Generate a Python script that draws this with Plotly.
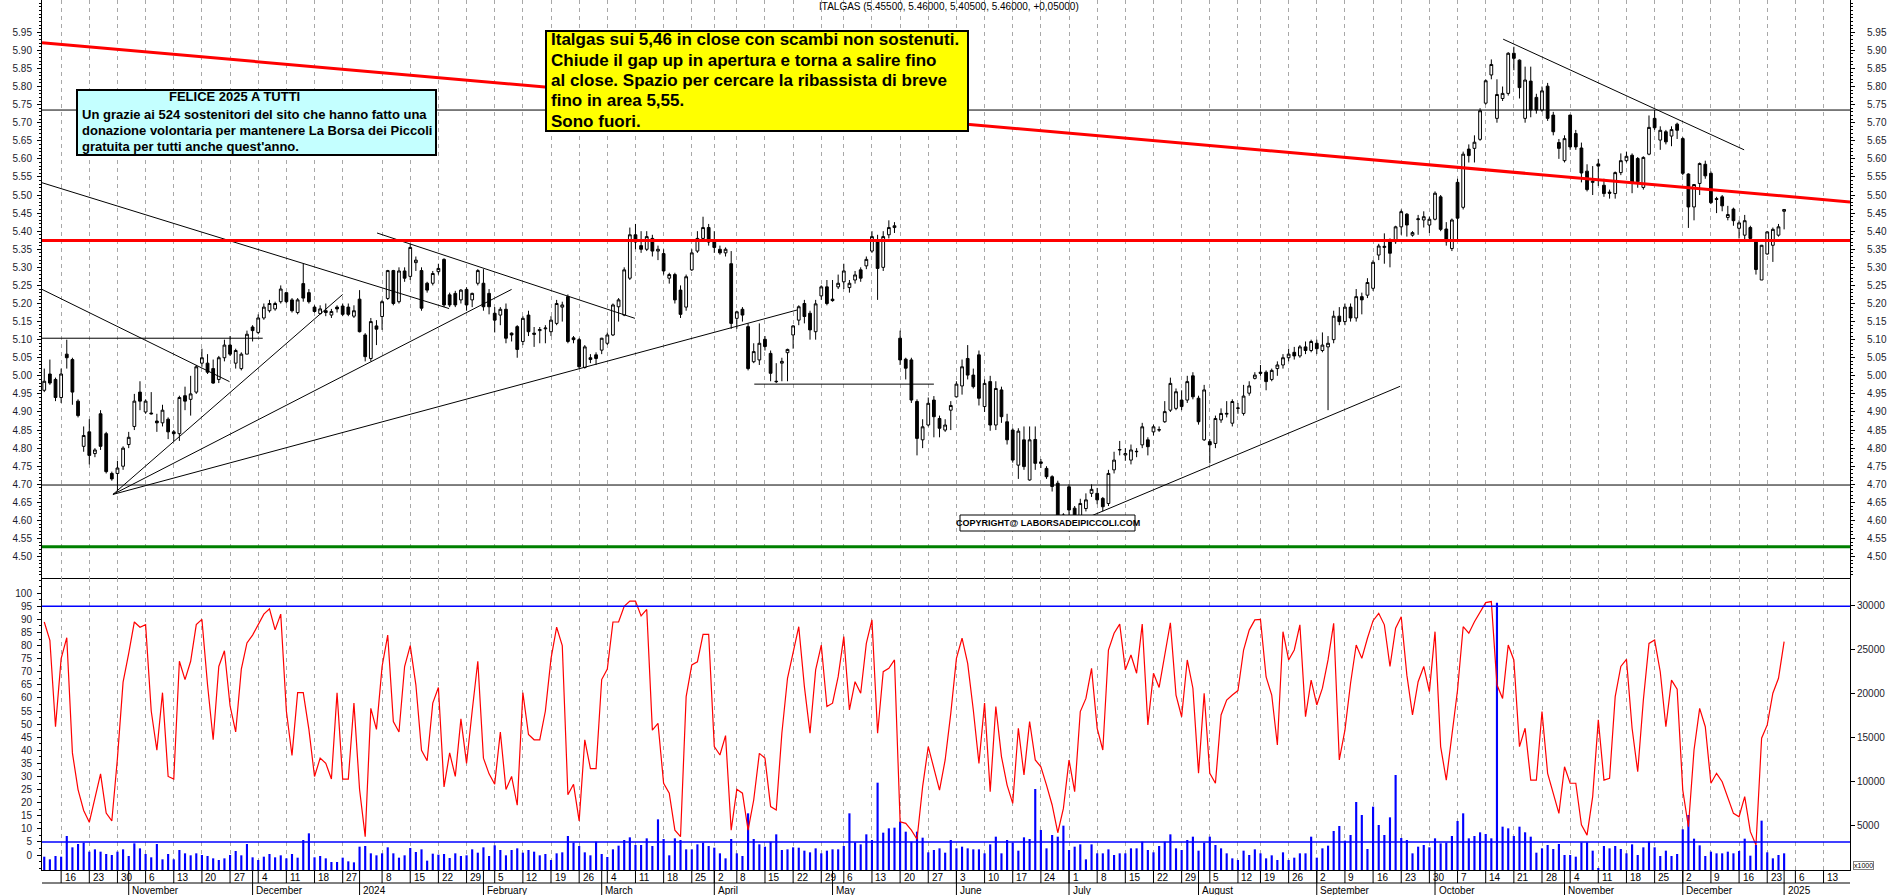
import plotly.graph_objects as go
import pandas as pd

FONT = "Liberation Sans, Arial, sans-serif"

# ---------------- calendar ----------------
FIRST_DAY = "2023-10-11"
HOLIDAYS = ["2023-12-25", "2023-12-26", "2024-01-01", "2024-03-29", "2024-04-01",
            "2024-05-01", "2024-08-15", "2024-12-24", "2024-12-25", "2024-12-26",
            "2024-12-31", "2025-01-01"]
MONTH_NAMES = {2: "February", 3: "March", 4: "April", 5: "May", 6: "June", 7: "July",
               8: "August", 9: "September", 10: "October", 11: "November", 12: "December"}

# ---------------- daily prices (ITALGAS) ----------------
opens = [
    4.96, 5.005, 4.99, 4.94, 5.06, 5.045, 4.93, 4.805, 4.845, 4.785,
    4.895, 4.84, 4.73, 4.73, 4.75, 4.81, 4.86, 4.955, 4.90, 4.897,
    4.875, 4.87, 4.88, 4.845, 4.84, 4.945, 4.935, 4.955, 5.035, 5.035,
    5.02, 4.99, 5.05, 5.085, 5.035, 5.02, 5.06, 5.135, 5.12, 5.16,
    5.18, 5.185, 5.205, 5.23, 5.21, 5.175, 5.255, 5.23, 5.19, 5.172,
    5.18, 5.168, 5.19, 5.193, 5.19, 5.165, 5.212, 5.113, 5.048, 5.138,
    5.164, 5.214, 5.291, 5.205, 5.29, 5.275, 5.313, 5.291, 5.256, 5.256,
    5.288, 5.322, 5.224, 5.228, 5.21, 5.239, 5.21, 5.256, 5.256, 5.228,
    5.173, 5.168, 5.184, 5.118, 5.136, 5.095, 5.168, 5.118, 5.125, 5.13,
    5.122, 5.145, 5.19, 5.219, 5.105, 5.10, 5.023, 5.05, 5.058, 5.071,
    5.09, 5.113, 5.191, 5.168, 5.27, 5.39, 5.36, 5.35, 5.38, 5.345,
    5.338, 5.27, 5.28, 5.237, 5.19, 5.293, 5.345, 5.38, 5.41, 5.37,
    5.35, 5.34, 5.31, 5.159, 5.184, 5.136, 5.039, 5.044, 5.101, 5.062,
    4.985, 5.035, 5.064, 5.113, 5.154, 5.20, 5.173, 5.122, 5.221, 5.246,
    5.212, 5.246, 5.26, 5.244, 5.265, 5.293, 5.304, 5.345, 5.37, 5.30,
    5.39, 5.41, 5.104, 5.046, 5.044, 4.929, 4.823, 4.864, 4.933, 4.882,
    4.85, 4.905, 4.942, 4.972, 5.048, 5.002, 5.058, 4.915, 4.984, 4.864,
    4.961, 4.873, 4.85, 4.753, 4.823, 4.712, 4.824, 4.762, 4.744, 4.721,
    4.703, 4.606, 4.693, 4.634, 4.61, 4.633, 4.675, 4.675, 4.661, 4.647,
    4.74, 4.795, 4.781, 4.767, 4.79, 4.809, 4.823, 4.845, 4.85, 4.873,
    4.905, 4.91, 4.933, 4.933, 5.00, 4.938, 4.823, 4.818, 4.813, 4.878,
    4.894, 4.869, 4.91, 4.896, 4.952, 4.993, 5.01, 5.01, 4.99, 5.02,
    5.03, 5.05, 5.065, 5.055, 5.08, 5.07, 5.09, 5.07, 5.08, 5.10,
    5.165, 5.15, 5.19, 5.16, 5.219, 5.223, 5.242, 5.334, 5.355, 5.371,
    5.371, 5.412, 5.447, 5.389, 5.432, 5.431, 5.417, 5.433, 5.495, 5.406,
    5.352, 5.535, 5.466, 5.627, 5.629, 5.654, 5.754, 5.832, 5.712, 5.767,
    5.781, 5.892, 5.873, 5.712, 5.815, 5.77, 5.735, 5.801, 5.721, 5.645,
    5.595, 5.721, 5.67, 5.63, 5.566, 5.535, 5.586, 5.527, 5.508, 5.504,
    5.562, 5.595, 5.61, 5.601, 5.521, 5.613, 5.712, 5.652, 5.675, 5.663,
    5.696, 5.656, 5.558, 5.467, 5.532, 5.585, 5.56, 5.49, 5.495, 5.438,
    5.461, 5.408, 5.389, 5.41, 5.371, 5.265, 5.337, 5.361, 5.389, 5.455,
]
highs = [
    5.02, 5.045, 4.995, 5.02, 5.10, 5.05, 4.935, 4.86, 4.88, 4.80,
    4.905, 4.845, 4.735, 4.765, 4.805, 4.845, 4.95, 4.985, 4.935, 4.955,
    4.895, 4.92, 4.885, 4.85, 4.945, 4.97, 5.00, 5.03, 5.075, 5.06,
    5.045, 5.055, 5.10, 5.11, 5.075, 5.065, 5.125, 5.14, 5.17, 5.20,
    5.21, 5.205, 5.25, 5.23, 5.215, 5.215, 5.31, 5.24, 5.195, 5.195,
    5.20, 5.185, 5.195, 5.20, 5.20, 5.195, 5.237, 5.118, 5.16, 5.154,
    5.21, 5.293, 5.293, 5.30, 5.30, 5.365, 5.33, 5.30, 5.26, 5.29,
    5.31, 5.325, 5.23, 5.235, 5.24, 5.245, 5.23, 5.295, 5.295, 5.24,
    5.19, 5.19, 5.20, 5.12, 5.14, 5.165, 5.18, 5.135, 5.135, 5.14,
    5.165, 5.21, 5.205, 5.225, 5.11, 5.105, 5.085, 5.06, 5.065, 5.105,
    5.12, 5.20, 5.215, 5.30, 5.41, 5.42, 5.40, 5.40, 5.39, 5.36,
    5.35, 5.285, 5.285, 5.25, 5.28, 5.35, 5.40, 5.44, 5.42, 5.40,
    5.36, 5.355, 5.345, 5.18, 5.19, 5.145, 5.09, 5.145, 5.11, 5.07,
    5.035, 5.05, 5.075, 5.14, 5.195, 5.21, 5.18, 5.21, 5.25, 5.265,
    5.265, 5.28, 5.31, 5.265, 5.29, 5.30, 5.33, 5.40, 5.39, 5.40,
    5.43, 5.425, 5.125, 5.05, 5.05, 4.935, 4.88, 4.94, 4.944, 4.89,
    4.88, 4.93, 4.985, 5.045, 5.085, 5.02, 5.07, 4.99, 5.00, 4.985,
    4.97, 4.895, 4.855, 4.855, 4.86, 4.86, 4.86, 4.77, 4.75, 4.725,
    4.71, 4.62, 4.70, 4.64, 4.66, 4.675, 4.70, 4.69, 4.665, 4.74,
    4.79, 4.82, 4.80, 4.81, 4.80, 4.87, 4.83, 4.865, 4.86, 4.93,
    4.995, 4.965, 4.96, 5.00, 5.01, 4.945, 4.975, 4.825, 4.89, 4.91,
    4.93, 4.935, 4.925, 4.975, 4.985, 5.01, 5.03, 5.015, 5.02, 5.04,
    5.06, 5.075, 5.08, 5.085, 5.095, 5.10, 5.10, 5.12, 5.11, 5.18,
    5.19, 5.20, 5.20, 5.24, 5.23, 5.27, 5.32, 5.365, 5.394, 5.38,
    5.415, 5.46, 5.45, 5.40, 5.445, 5.455, 5.44, 5.51, 5.50, 5.425,
    5.435, 5.545, 5.62, 5.64, 5.665, 5.74, 5.82, 5.875, 5.82, 5.80,
    5.895, 5.91, 5.875, 5.855, 5.855, 5.78, 5.80, 5.81, 5.73, 5.655,
    5.665, 5.722, 5.68, 5.645, 5.585, 5.58, 5.60, 5.545, 5.515, 5.565,
    5.615, 5.62, 5.615, 5.605, 5.607, 5.72, 5.735, 5.69, 5.68, 5.69,
    5.70, 5.66, 5.56, 5.53, 5.59, 5.595, 5.565, 5.495, 5.50, 5.47,
    5.465, 5.43, 5.445, 5.415, 5.372, 5.362, 5.40, 5.41, 5.42, 5.46,
]
lows = [
    4.955, 4.975, 4.93, 4.925, 5.02, 4.92, 4.885, 4.79, 4.755, 4.775,
    4.795, 4.73, 4.71, 4.68, 4.74, 4.80, 4.85, 4.905, 4.895, 4.893,
    4.845, 4.86, 4.825, 4.82, 4.82, 4.905, 4.89, 4.95, 5.025, 5.005,
    4.978, 4.98, 5.04, 5.055, 5.02, 5.015, 5.06, 5.095, 5.115, 5.155,
    5.175, 5.18, 5.20, 5.20, 5.175, 5.17, 5.205, 5.20, 5.175, 5.17,
    5.165, 5.16, 5.175, 5.165, 5.165, 5.16, 5.12, 5.04, 5.04, 5.085,
    5.127, 5.21, 5.195, 5.20, 5.26, 5.265, 5.29, 5.18, 5.23, 5.25,
    5.28, 5.19, 5.19, 5.19, 5.20, 5.18, 5.19, 5.25, 5.18, 5.17,
    5.12, 5.14, 5.09, 5.095, 5.05, 5.085, 5.11, 5.08, 5.09, 5.09,
    5.11, 5.14, 5.15, 5.09, 5.09, 5.02, 5.02, 5.035, 5.03, 5.06,
    5.085, 5.11, 5.15, 5.165, 5.265, 5.35, 5.34, 5.345, 5.33, 5.32,
    5.28, 5.255, 5.20, 5.16, 5.18, 5.29, 5.34, 5.37, 5.36, 5.34,
    5.335, 5.33, 5.13, 5.13, 5.15, 5.015, 5.035, 5.03, 5.07, 4.985,
    4.98, 4.985, 4.985, 5.075, 5.14, 5.145, 5.10, 5.10, 5.21, 5.195,
    5.205, 5.24, 5.24, 5.23, 5.255, 5.26, 5.295, 5.34, 5.21, 5.29,
    5.38, 5.395, 5.03, 4.99, 4.925, 4.78, 4.80, 4.86, 4.83, 4.83,
    4.845, 4.85, 4.94, 4.948, 4.99, 4.965, 4.918, 4.90, 4.848, 4.85,
    4.87, 4.81, 4.76, 4.715, 4.74, 4.71, 4.74, 4.745, 4.715, 4.68,
    4.585, 4.59, 4.57, 4.585, 4.60, 4.625, 4.665, 4.645, 4.625, 4.64,
    4.73, 4.78, 4.765, 4.755, 4.775, 4.80, 4.78, 4.835, 4.845, 4.87,
    4.90, 4.905, 4.905, 4.925, 4.935, 4.865, 4.82, 4.758, 4.80, 4.87,
    4.885, 4.86, 4.895, 4.89, 4.945, 4.99, 5.00, 4.96, 4.985, 5.00,
    5.02, 5.04, 5.045, 5.05, 5.06, 5.065, 5.06, 5.065, 4.905, 5.09,
    5.14, 5.14, 5.15, 5.15, 5.17, 5.215, 5.235, 5.32, 5.31, 5.30,
    5.365, 5.39, 5.385, 5.385, 5.39, 5.41, 5.395, 5.43, 5.40, 5.36,
    5.345, 5.375, 5.46, 5.59, 5.59, 5.65, 5.75, 5.82, 5.70, 5.76,
    5.775, 5.845, 5.767, 5.70, 5.715, 5.725, 5.73, 5.705, 5.665, 5.60,
    5.59, 5.625, 5.625, 5.535, 5.51, 5.50, 5.525, 5.495, 5.49, 5.49,
    5.555, 5.59, 5.505, 5.52, 5.515, 5.61, 5.68, 5.625, 5.64, 5.635,
    5.655, 5.555, 5.409, 5.43, 5.50, 5.545, 5.475, 5.45, 5.455, 5.43,
    5.415, 5.38, 5.37, 5.375, 5.28, 5.265, 5.335, 5.315, 5.385, 5.405,
]
closes = [
    4.985, 4.98, 4.94, 5.005, 5.05, 4.955, 4.89, 4.835, 4.78, 4.795,
    4.805, 4.735, 4.715, 4.745, 4.80, 4.83, 4.93, 4.93, 4.93, 4.895,
    4.87, 4.905, 4.845, 4.84, 4.94, 4.93, 4.95, 5.025, 5.05, 5.01,
    4.98, 5.05, 5.085, 5.06, 5.07, 5.06, 5.115, 5.125, 5.16, 5.19,
    5.20, 5.20, 5.24, 5.205, 5.18, 5.21, 5.215, 5.205, 5.178, 5.185,
    5.175, 5.178, 5.185, 5.17, 5.17, 5.18, 5.122, 5.053, 5.15, 5.129,
    5.205, 5.291, 5.20, 5.29, 5.27, 5.355, 5.32, 5.187, 5.237, 5.283,
    5.297, 5.196, 5.196, 5.196, 5.237, 5.196, 5.228, 5.291, 5.191, 5.191,
    5.154, 5.184, 5.104, 5.113, 5.073, 5.159, 5.122, 5.115, 5.128, 5.132,
    5.154, 5.20, 5.196, 5.095, 5.10, 5.025, 5.08, 5.045, 5.048, 5.104,
    5.113, 5.196, 5.21, 5.293, 5.39, 5.37, 5.35, 5.385, 5.345, 5.35,
    5.29, 5.28, 5.21, 5.17, 5.274, 5.34, 5.38, 5.41, 5.37, 5.355,
    5.34, 5.35, 5.145, 5.177, 5.168, 5.02, 5.067, 5.09, 5.081, 5.007,
    4.984, 5.04, 5.073, 5.138, 5.191, 5.164, 5.127, 5.199, 5.246, 5.20,
    5.208, 5.256, 5.29, 5.256, 5.279, 5.27, 5.322, 5.385, 5.297, 5.385,
    5.41, 5.415, 5.044, 5.021, 4.933, 4.827, 4.859, 4.924, 4.887, 4.855,
    4.864, 4.918, 4.977, 5.025, 5.002, 4.97, 4.938, 4.979, 4.864, 4.965,
    4.887, 4.823, 4.767, 4.847, 4.749, 4.823, 4.758, 4.758, 4.721, 4.694,
    4.602, 4.615, 4.629, 4.601, 4.647, 4.657, 4.686, 4.657, 4.638, 4.73,
    4.767, 4.796, 4.785, 4.795, 4.791, 4.859, 4.804, 4.859, 4.851, 4.901,
    4.979, 4.956, 4.915, 4.984, 4.942, 4.873, 4.961, 4.809, 4.882, 4.896,
    4.896, 4.929, 4.911, 4.944, 4.972, 5.002, 5.007, 4.984, 5.015, 5.03,
    5.05, 5.06, 5.055, 5.08, 5.07, 5.095, 5.075, 5.085, 5.09, 5.165,
    5.15, 5.19, 5.16, 5.219, 5.21, 5.258, 5.314, 5.359, 5.358, 5.339,
    5.412, 5.454, 5.417, 5.396, 5.434, 5.44, 5.433, 5.505, 5.405, 5.371,
    5.431, 5.436, 5.613, 5.609, 5.646, 5.733, 5.816, 5.861, 5.778, 5.781,
    5.892, 5.878, 5.797, 5.818, 5.735, 5.735, 5.788, 5.712, 5.675, 5.629,
    5.656, 5.633, 5.633, 5.561, 5.515, 5.538, 5.58, 5.504, 5.505, 5.562,
    5.595, 5.607, 5.534, 5.537, 5.604, 5.687, 5.686, 5.679, 5.647, 5.681,
    5.679, 5.56, 5.467, 5.529, 5.587, 5.553, 5.479, 5.488, 5.47, 5.446,
    5.429, 5.423, 5.429, 5.38, 5.294, 5.361, 5.398, 5.405, 5.412, 5.46,
]

# ---------------- oscillator (0-100) ----------------
oscillator = [
    89, 82, 49, 75, 83, 39, 25, 17, 12.5, 22,
    31, 16, 13, 37, 66, 77, 89, 87, 88, 55,
    40, 62, 30, 29, 74, 67, 74, 88, 90, 65,
    44, 72, 78, 57, 47, 71, 81, 84, 88, 92,
    94, 86, 92, 55, 38, 62, 62, 48, 30, 37,
    35, 29, 62, 29, 29, 58, 25, 7, 56, 48,
    72, 84, 51, 47, 72, 80, 65, 40, 36, 58,
    64, 26, 39, 30, 52, 35, 55, 74, 37, 31,
    27, 47, 25, 30, 19, 62, 46, 44, 44, 55,
    75, 87, 80, 23, 27, 13, 44, 33, 33, 67,
    71, 89, 89, 95, 97, 97, 91.3, 93.8, 47.7, 50.3,
    27.4, 23.6, 9.5, 7, 60.5, 72.6, 73.8, 84.3, 84.3, 41.4,
    38.2, 45.6, 9.5, 25.1, 23.6, 9.5, 21, 38.8, 37, 18.5,
    17.2, 46.5, 67.5, 77, 87.2, 64.3, 46.5, 70.7, 80.2, 56.7,
    58, 68.1, 83.4, 55.4, 66.2, 61.8, 80.8, 89.8, 46.5, 70,
    71.3, 74.5, 12.7, 12.1, 9.5, 6, 26.1, 41.4, 33.1, 24.8,
    36.3, 54.1, 75.1, 82.8, 73.2, 55.4, 35, 58, 24.2, 56.7,
    37.6, 26.7, 19.7, 48.4, 30.6, 51, 36.3, 33.7, 26.7, 19.1,
    8.5, 17.8, 36.3, 24.2, 54.8, 59.8, 71.3, 48.4, 40.1, 78.3,
    84.7, 88.2, 70.7, 76.4, 69.4, 88.2, 49.7, 69.4, 64, 76.4,
    88.7, 61.1, 52.8, 74.5, 63.7, 31.2, 61.8, 31.2, 27.4, 53.5,
    59.2, 61.1, 62.8, 78.3, 85.9, 89.8, 90, 68, 61.1, 42,
    85.3, 74.5, 78.3, 87.9, 52.8, 66.8, 57.3, 63.7, 74.5, 88.5,
    36.3, 47.7, 65.6, 80.2, 75.1, 82.8, 89.5, 92.3, 87.9, 72,
    86.6, 91, 68.7, 53.5, 66.2, 72, 62.4, 85.3, 41.4, 28.6,
    45.2, 63, 87.2, 84.7, 89.1, 93, 96.4, 96.8, 65, 59.8,
    80.2, 74.5, 41.4, 48.4, 28.6, 28.6, 54.8, 31.2, 23.6, 15.9,
    33.7, 27.4, 27.4, 11.5, 7.6, 22.3, 51.6, 28.6, 29.3, 60.5,
    72, 74.7, 48.4, 31.8, 59.2, 80.8, 82.1, 70, 49, 66.8,
    63.3, 24.8, 10.8, 40.1, 56, 49, 27.4, 31.2, 28, 21.6,
    15.9, 14.6, 22.3, 8.9, 3.8, 44.6, 49.7, 61.8, 67.5, 81.5,
]

# ---------------- volume (x1000) ----------------
volume_k = [
    1513, 1211, 1589, 1513, 3859, 2573, 2951, 3102, 2081, 2346,
    2081, 1816, 1703, 2081, 2346, 1589, 3027, 2459, 1816, 1438,
    2951, 1211, 1816, 1211, 2270, 1892, 1665, 1892, 1703, 1589,
    1324, 1135, 1324, 1703, 2157, 1665, 2951, 1438, 1135, 1513,
    1816, 1438, 1665, 1324, 1816, 1400, 3405, 4162, 1438, 1589,
    1324, 908, 908, 1400, 984, 870, 2648, 2724, 1892, 1665,
    1892, 2573, 1892, 1400, 1665, 2497, 2043, 2346, 1059, 1854,
    1740, 1816, 1362, 1892, 1589, 1665, 2346, 1967, 2573, 1589,
    2800, 2270, 1665, 2270, 2459, 1967, 2270, 2081, 1665, 1816,
    1135, 1892, 2005, 3859, 3102, 2724, 2005, 1665, 3216, 1816,
    1476, 2346, 2762, 3405, 3708, 2838, 2838, 3594, 2724, 5751,
    3519, 1665, 3594, 3405, 2346, 2346, 2913, 3102, 2724, 2535,
    1892, 1324, 3519, 1892, 1589, 6433, 3519, 2913, 2648, 3216,
    4049, 2270, 2346, 2573, 2535, 2195, 2005, 2459, 1892, 2195,
    2346, 2346, 2724, 6433, 3140, 2913, 4049, 3405, 9911, 4238,
    4730, 4805, 5486, 4351, 3216, 4351, 3670, 2005, 2270, 2459,
    1967, 3405, 2459, 2648, 2459, 2346, 2346, 1892, 2913, 3783,
    1892, 3405, 3102, 2195, 3708, 3519, 9193, 4540, 2459, 3973,
    3783, 5032, 2270, 2648, 2913, 1211, 2913, 1892, 1892, 2346,
    1703, 1892, 1892, 2459, 2459, 3216, 2270, 2005, 2724, 3216,
    4049, 2459, 2270, 3405, 3783, 2195, 3102, 3783, 2838, 2459,
    1892, 1324, 1135, 2195, 1703, 2346, 1892, 1324, 1665, 1135,
    2005, 1135, 1400, 1892, 1892, 3783, 1400, 2459, 2762, 4427,
    4995, 3329, 3973, 7718, 6243, 2384, 7189, 5107, 3973, 5978,
    10782, 3632, 3405, 1892, 2648, 2838, 2573, 3594, 3027, 3102,
    3859, 5562, 6433, 3594, 3859, 4276, 4086, 3594, 30340, 4919,
    4730, 3859, 4919, 4276, 3783, 1967, 2459, 2838, 2384, 2951,
    1703, 1703, 1513, 3140, 3140, 2195, 150, 2724, 2459, 2724,
    2384, 1892, 2913, 1703, 2573, 3216, 2573, 1589, 2195, 1589,
    1816, 4616, 6243, 3556, 2800, 1589, 2081, 1892, 1892, 2081,
    1892, 2157, 3556, 1627, 2838, 5600, 2005, 1324, 1703, 1892,
]

# ---------------- drawn levels / trendlines (bar index, price) ----------------
level_red = 5.374
level_black_hi = 5.735
level_black_lo = 4.698
level_green = 4.527
short_levels = [(-0.4, 38.8, 5.104), (126.1, 158.0, 4.977)]
trend_lines = [
    (-0.4, 5.239, 32.9, 4.984),
    (12.2, 4.672, 53.0, 5.225),
    (12.2, 4.672, 83.0, 5.239),
    (12.2, 4.672, 133.7, 5.182),
    (-0.4, 5.534, 71.9, 5.186),
    (59.1, 5.395, 104.9, 5.159),
    (179.9, 4.573, 240.8, 4.971),
    (259.1, 5.931, 301.9, 5.625),
]
red_trend = (-0.4, 5.921, 320.7, 5.481)
osc_levels = [95, 5]

price_ticks = [round(4.50 + 0.05 * k, 2) for k in range(30)]
osc_ticks = list(range(0, 101, 5))
vol_ticks = list(range(5000, 30001, 5000))

# ---------------- geometry ----------------
W, H = 1890, 895
ML, MR, MT, MB = 42, 40, 0, 25
PW, PH = W - ML - MR, H - MT - MB
SPLIT = 578
XMIN, XMAX = -0.4, 320.7
P_MIN, P_MAX = 4.4409, 6.0393
O_MIN, O_MAX = -5.73, 105.8
V_MAX = 33144


def fx(x):
    return (x - ML) / PW


def fy(y):
    return 1 - (y - MT) / PH


N = len(closes)
idx = list(range(N))
days = pd.bdate_range(FIRST_DAY, "2025-01-31")
days = days[~days.isin(pd.to_datetime(HOLIDAYS))]
last_week = days[N - 1].isocalendar()[1]
week_starts = [i for i in range(1, len(days))
               if i <= XMAX and days[i].isocalendar()[1] != days[i - 1].isocalendar()[1]
               and not (days[i].isocalendar()[1] == last_week and i <= N - 1)]
month_starts = [i for i in range(1, N) if days[i].month != days[i - 1].month]

fig = go.Figure()

fig.add_trace(go.Candlestick(
    x=idx, open=opens, high=highs, low=lows, close=closes,
    increasing=dict(line=dict(color="black", width=1), fillcolor="white"),
    decreasing=dict(line=dict(color="black", width=1), fillcolor="black"),
    whiskerwidth=0, xaxis="x", yaxis="y", showlegend=False, hoverinfo="skip"))

fig.add_trace(go.Scatter(x=[red_trend[0], red_trend[2]], y=[red_trend[1], red_trend[3]],
                         mode="lines", line=dict(color="#ff0000", width=3),
                         xaxis="x", yaxis="y", showlegend=False, hoverinfo="skip"))
for x0, p0, x1, p1 in trend_lines:
    fig.add_trace(go.Scatter(x=[x0, x1], y=[p0, p1], mode="lines",
                             line=dict(color="black", width=1),
                             xaxis="x", yaxis="y", showlegend=False, hoverinfo="skip"))

# dummy for right-hand price axis
fig.add_trace(go.Scatter(x=[None], y=[None], xaxis="x", yaxis="y2", showlegend=False))

fig.add_trace(go.Bar(x=idx, y=volume_k, width=0.38, marker=dict(color="#0000ff", line=dict(width=0)),
                     xaxis="x2", yaxis="y3", showlegend=False, hoverinfo="skip"))
fig.add_trace(go.Scatter(x=idx, y=oscillator, mode="lines", line=dict(color="#ff0000", width=1.2),
                         xaxis="x2", yaxis="y4", showlegend=False, hoverinfo="skip"))

tickfont = dict(family=FONT, size=10, color="#1c1c2c")
xcommon = dict(range=[XMIN, XMAX], showticklabels=False, ticks="", tickmode="array",
               tickvals=week_starts, showgrid=True, gridcolor="#a8a8a8", griddash="4px,4px",
               gridwidth=1, showline=True, linecolor="black", linewidth=1, zeroline=False,
               fixedrange=True)
price_minor = [round(4.45 + 0.01 * k, 2) for k in range(159)]
pcommon = dict(domain=[fy(SPLIT), 1], range=[P_MIN, P_MAX], tickmode="array", tickvals=price_ticks,
               ticktext=[f"{v:.2f}" for v in price_ticks], ticks="outside", ticklen=4,
               tickcolor="black", minor=dict(tickmode="array", tickvals=price_minor, ticks="outside",
                                             ticklen=2, tickcolor="black"),
               showline=True, linecolor="black", linewidth=1, showgrid=False, zeroline=False,
               tickfont=tickfont, fixedrange=True)

fig.update_layout(
    width=W, height=H, margin=dict(l=ML, r=MR, t=MT, b=MB),
    paper_bgcolor="white", plot_bgcolor="white", showlegend=False, boxgap=0.3,
    xaxis=dict(**xcommon, anchor="y", domain=[0, 1], rangeslider=dict(visible=False)),
    xaxis2=dict(**xcommon, anchor="y3", domain=[0, 1], matches="x"),
    yaxis=dict(**pcommon, side="left", anchor="x", ticklabelstandoff=3),
    yaxis2=dict(**pcommon, side="right", anchor="x", overlaying="y", ticklabelstandoff=10),
    yaxis3=dict(domain=[0, fy(SPLIT)], range=[0, V_MAX], side="right", anchor="x2",
                tickmode="array", tickvals=vol_ticks, ticktext=[str(v) for v in vol_ticks],
                ticks="outside", ticklen=4, tickcolor="black", showline=True, linecolor="black",
                showgrid=False, zeroline=False, tickfont=tickfont, fixedrange=True),
    yaxis4=dict(range=[O_MIN, O_MAX], side="left", anchor="x2", overlaying="y3",
                tickmode="array", tickvals=osc_ticks, ticktext=[str(v) for v in osc_ticks],
                ticks="outside", ticklen=4, tickcolor="black", ticklabelstandoff=3,
                minor=dict(tickmode="array", tickvals=[k * 2.5 for k in range(-2, 43)],
                           ticks="outside", ticklen=2, tickcolor="black"),
                showline=True, linecolor="black", showgrid=False, zeroline=False,
                tickfont=tickfont, fixedrange=True),
)

shapes = []
for lvl, col, wd in [(level_black_hi, "black", 1), (level_black_lo, "black", 1),
                     (level_red, "#ff0000", 3), (level_green, "#008000", 3)]:
    shapes.append(dict(type="line", xref="x domain", yref="y", x0=0, x1=1, y0=lvl, y1=lvl,
                       line=dict(color=col, width=wd)))
for x0, x1, lvl in short_levels:
    shapes.append(dict(type="line", xref="x", yref="y", x0=x0, x1=x1, y0=lvl, y1=lvl,
                       line=dict(color="black", width=1)))
for lvl in osc_levels:
    shapes.append(dict(type="line", xref="x2 domain", yref="y4", x0=0, x1=1, y0=lvl, y1=lvl,
                       line=dict(color="#0000ff", width=1.5)))

# text boxes
shapes.append(dict(type="rect", xref="paper", yref="paper", x0=fx(77), x1=fx(436), y0=fy(155), y1=fy(90),
                   fillcolor="#c4ffff", line=dict(color="black", width=2), layer="above"))
shapes.append(dict(type="rect", xref="paper", yref="paper", x0=fx(546), x1=fx(968), y0=fy(131), y1=fy(31),
                   fillcolor="#ffff00", line=dict(color="black", width=2), layer="above"))
shapes.append(dict(type="rect", xref="paper", yref="paper", x0=fx(960), x1=fx(1135), y0=fy(531), y1=fy(515),
                   fillcolor="white", line=dict(color="black", width=1), layer="above"))

# date band below the lower panel
shapes.append(dict(type="line", xref="paper", yref="paper", x0=0, x1=1, y0=fy(883), y1=fy(883),
                   line=dict(color="black", width=1)))
for w in week_starts:
    shapes.append(dict(type="line", xref="x2", yref="paper", x0=w, x1=w, y0=fy(870), y1=fy(883),
                       line=dict(color="black", width=1)))
for m in month_starts:
    shapes.append(dict(type="line", xref="x2", yref="paper", x0=m, x1=m, y0=fy(870), y1=fy(896),
                       line=dict(color="black", width=1)))

ann = []
for w in week_starts:
    ann.append(dict(x=w, xref="x2", xshift=1.5, xanchor="left", y=fy(877.5), yref="paper",
                    yanchor="middle", text=str(days[w].day), showarrow=False,
                    font=dict(family=FONT, size=10, color="black")))
for m in month_starts:
    d = days[m]
    name = str(d.year) if d.month == 1 else MONTH_NAMES[d.month]
    ann.append(dict(x=m, xref="x2", xshift=1.5, xanchor="left", y=fy(890.5), yref="paper",
                    yanchor="middle", text=name, showarrow=False,
                    font=dict(family=FONT, size=10, color="black")))


def txt(x, y, s, size, bold=True, anchor="left"):
    ann.append(dict(x=fx(x), y=fy(y), xref="paper", yref="paper", xanchor=anchor, yanchor="middle",
                    text=f"<b>{s}</b>" if bold else s, showarrow=False,
                    font=dict(family=FONT, size=size, color="black")))


txt(817, 7, "ITALGAS (5.45500, 5.46000, 5.40500, 5.46000, +0,05000)", 10, bold=False)
txt(167, 97, "FELICE 2025 A TUTTI", 13)
txt(80, 114.3, "Un grazie ai 524 sostenitori del sito che hanno fatto una", 13)
txt(80, 130, "donazione volontaria per mantenere La Borsa dei Piccoli", 13)
txt(80, 146.7, "gratuita per tutti anche quest'anno.", 13)
yl = ["Italgas sui 5,46 in close con scambi non sostenuti.",
      "Chiude il gap up in apertura e torna a salire fino",
      "al close. Spazio per cercare la ribassista di breve",
      "fino in area 5,55.",
      "Sono fuori."]
for k, s in enumerate(yl):
    txt(549, 40 + 20.3 * k, s, 17)
txt(1047.5, 523, "COPYRIGHT@ LABORSADEIPICCOLI.COM", 9, anchor="center")
ann.append(dict(x=fx(1863), y=fy(865), xref="paper", yref="paper", xanchor="center", yanchor="middle",
                text="x1000", showarrow=False, bordercolor="#808080", borderwidth=1, borderpad=0,
                font=dict(family=FONT, size=7, color="black")))

fig.update_layout(shapes=shapes, annotations=ann)

fig.write_html("out.html", config={"displayModeBar": False},
               post_script="document.body.style.margin='0';document.body.style.overflow='hidden';")
